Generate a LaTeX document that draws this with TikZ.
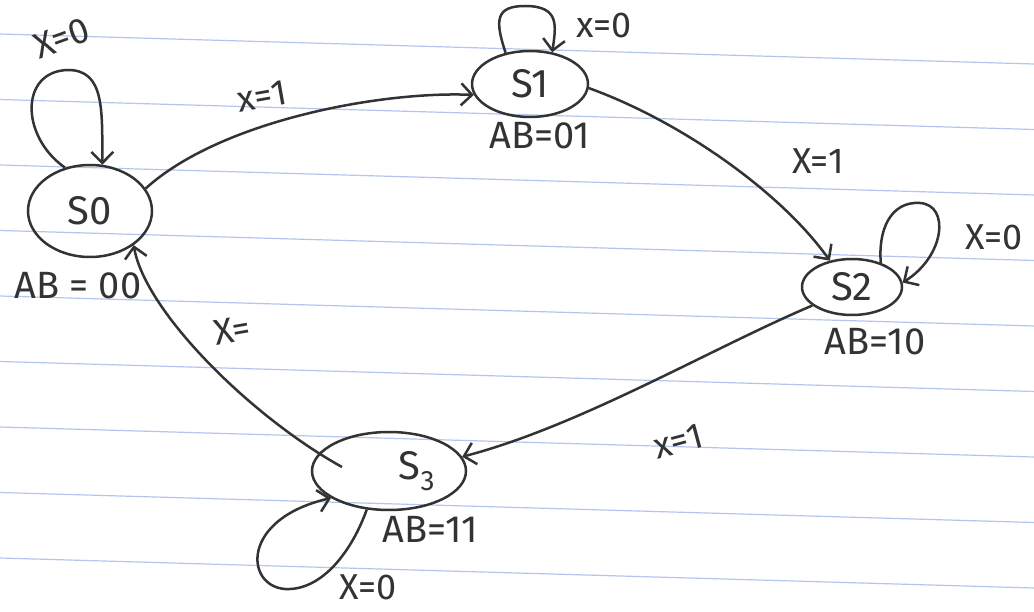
\documentclass[tikz,border=0pt]{standalone}
\usepackage{fontspec}
\setmainfont{Fira Sans}
\usetikzlibrary{shapes.geometric,arrows.meta}
\definecolor{ink}{HTML}{333333}
\definecolor{ruled}{HTML}{B4C6EE}
\tikzset{
  state/.style={draw=ink,line width=2.5pt,ellipse,inner sep=0pt,font=\fontsize{40}{42}\selectfont,text=ink},
  conn/.style={draw=ink,line width=2.5pt,-{Straight Barb[length=11pt,width=22pt]}},
  lab/.style={text=ink,font=\fontsize{36}{38}\selectfont,inner sep=1pt},
  outlab/.style={text=ink,font=\fontsize{38}{40}\selectfont,inner sep=1pt},
  paperline/.style={draw=ruled,line width=1.2pt}
}
\begin{document}
\begin{tikzpicture}[x=1pt,y=1pt]
\useasboundingbox (0,0) rectangle (1034,611);
\fill[white] (0,0) rectangle (1034,611);
% ruled paper
\foreach \k in {0,...,8}{
  \draw[paperline] (0,{577-65.5*\k}) -- (1034,{547-65.5*\k});
}
% states
\node[state,minimum width=124pt,minimum height=92pt] (s0) at (90,400) {S0};
\node[state,minimum width=116pt,minimum height=66pt] (s1) at (530,527) {S1};
\node[state,minimum width=100pt,minimum height=56pt] (s2) at (852,324) {S2};
\node[state,minimum width=154pt,minimum height=78pt] (s3) at (389,140) {\hspace*{56pt}S\textsubscript{3}};
% state outputs
\node[outlab] (o0) at (78,325) {AB = 00};
\node[outlab] (o1) at (540,475) {AB=01};
\node[outlab] (o2) at (875,269) {AB=10};
\node[outlab] (o3) at (430,82) {AB=11};
% transitions
\draw[conn] (s0.22) .. controls (220,490) and (380,520) .. (s1.191);
\draw[conn] (s1.-4) .. controls (680,490) and (780,420) .. (s2.130);
\draw[conn] (s2.205) .. controls (710,262) and (580,185) .. (s3.11);
\draw[conn] ([shift={(-47,4)}]s3.center) .. controls (250,195) and (145,300) .. (s0.-38);
% self loops
\draw[conn] (s0.120) .. controls (20,475) and (20,540) .. (68,541) .. controls (105,541) and (102,500) .. (s0.75);
\draw[conn] (s1.128) .. controls (495,590) and (495,605) .. (525,605) .. controls (560,605) and (556,585) .. (s1.55);
\draw[conn] (s2.40) .. controls (878,380) and (890,410) .. (920,408) .. controls (950,406) and (945,355) .. (s2.5);
\draw[conn] (s3.240) .. controls (352,60) and (322,20) .. (285,22) .. controls (245,25) and (240,92) .. (s3.205);
% transition labels
\node[lab,rotate=20] (l00) at (62,573) {X=0};
\node[lab,rotate=10] (l01) at (262,515) {x=1};
\node[lab] (l11) at (604,586) {x=0};
\node[lab] (l12) at (818,450) {X=1};
\node[lab] (l22) at (994,374) {X=0};
\node[lab,rotate=15] (l23) at (678,170) {x=1};
\node[lab,rotate=10] (l30) at (232,281) {X=};
\node[lab] (l33) at (368,24) {X=0};
\end{tikzpicture}
\end{document}
